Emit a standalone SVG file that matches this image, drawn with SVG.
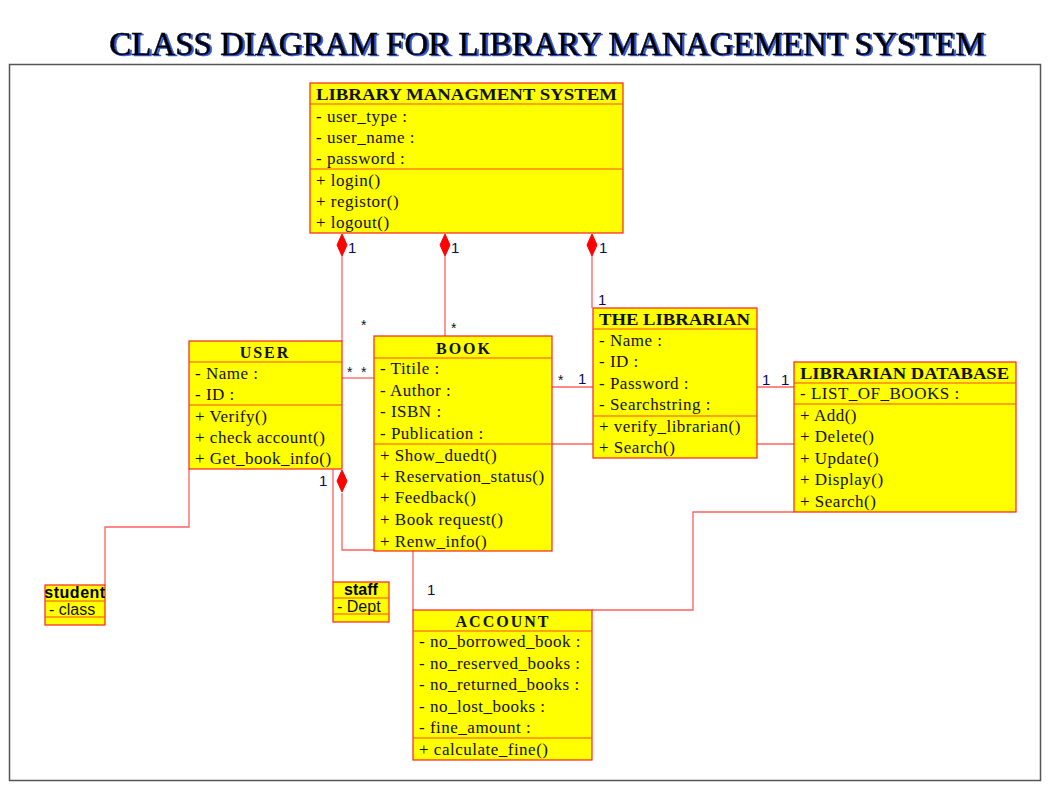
<svg xmlns="http://www.w3.org/2000/svg" width="1050" height="791" viewBox="0 0 1050 791">
<defs>
<style>
.box{fill:#FFFF00;stroke:#FF2020;stroke-width:1.2}
.sep{stroke:#FF4A1A;stroke-width:1.2}
.t{font-family:"Liberation Serif","Times New Roman",serif;font-size:17px;letter-spacing:0.5px;fill:#111}
.h{font-family:"Liberation Serif","Times New Roman",serif;font-size:16px;font-weight:bold;fill:#111}
.s{font-family:"Liberation Sans",Arial,sans-serif;font-size:14px;fill:#111}
.s16{font-family:"Liberation Sans",Arial,sans-serif;font-size:16px;fill:#111}
.sb{font-family:"Liberation Sans",Arial,sans-serif;font-size:16px;font-weight:bold;fill:#000}
.m{font-family:"Liberation Sans",Arial,sans-serif;font-size:15px;fill:#0a0a50}
.ln{fill:none;stroke:#FF6060;stroke-width:1.3}
.dia{fill:#FF0000;stroke:#FF0000}
.title{font-family:"Liberation Serif","Times New Roman",serif;font-size:33px;fill:#000;stroke:#000;stroke-width:0.6}
</style>
<clipPath id="clipStudent"><rect x="45" y="585" width="60" height="40"/></clipPath>
<filter id="shadow" x="-5%" y="-40%" width="110%" height="180%">
<feDropShadow dx="2" dy="1" stdDeviation="0.4" flood-color="#2f55e0" flood-opacity="1"/>
</filter>
</defs>
<rect x="0" y="0" width="1050" height="791" fill="#fff"/>
<g id="title">
<text class="title" x="547" y="55" text-anchor="middle" filter="url(#shadow)">CLASS DIAGRAM FOR LIBRARY MANAGEMENT SYSTEM</text>
</g>
<rect id="frame" x="9.5" y="64.5" width="1031" height="716" fill="none" stroke="#555" stroke-width="1.5"/>

<g id="connectors">
<path class="ln" d="M342,256 V341"/>
<path class="ln" d="M342,378 H374"/>
<path class="ln" d="M445,256 V336"/>
<path class="ln" d="M592,256 V308"/>
<path class="ln" d="M552,387 H593"/>
<path class="ln" d="M552,444 H593"/>
<path class="ln" d="M757,387 H794"/>
<path class="ln" d="M757,444 H794"/>
<path class="ln" d="M333,469 V582"/>
<path class="ln" d="M342,493 V550 H374"/>
<path class="ln" d="M189,469 V527 H105 V585"/>
<path class="ln" d="M413,551 V610"/>
<path class="ln" d="M592,610 H693 V512 H794"/>
<polygon class="dia" points="342,234 347,245 342,256 337,245"/>
<polygon class="dia" points="445,234 450,245 445,256 440,245"/>
<polygon class="dia" points="592,234 597,245 592,256 587,245"/>
<polygon class="dia" points="342,470 347,481 342,492 337,481"/>
<text class="m" x="348" y="253">1</text>
<text class="m" x="451" y="253">1</text>
<text class="m" x="599" y="253">1</text>
<text class="m" x="598" y="305">1</text>
<text class="s" x="361" y="330">*</text>
<text class="s" x="451" y="333">*</text>
<text class="s" x="347" y="377">*</text>
<text class="s" x="361" y="377">*</text>
<text class="s" x="558" y="385">*</text>
<text class="m" x="578" y="384">1</text>
<text class="m" x="762" y="385">1</text>
<text class="m" x="781" y="385">1</text>
<text class="m" x="319" y="486">1</text>
<text class="m" x="427" y="595">1</text>
</g>

<g id="lms">
<rect class="box" x="310" y="83" width="313" height="150"/>
<line class="sep" x1="310" y1="104" x2="623" y2="104"/>
<line class="sep" x1="310" y1="169" x2="623" y2="169"/>
<text class="h" x="316" y="100" textLength="301" lengthAdjust="spacingAndGlyphs">LIBRARY MANAGMENT SYSTEM</text>
<text class="t" x="316" y="122">- user_type :</text>
<text class="t" x="316" y="143">- user_name :</text>
<text class="t" x="316" y="164">- password :</text>
<text class="t" x="316" y="186">+ login()</text>
<text class="t" x="316" y="207">+ registor()</text>
<text class="t" x="316" y="228">+ logout()</text>
</g>

<g id="user">
<rect class="box" x="189" y="341" width="153" height="128"/>
<line class="sep" x1="189" y1="362" x2="342" y2="362"/>
<line class="sep" x1="189" y1="405" x2="342" y2="405"/>
<text class="h" x="265" y="358" text-anchor="middle" letter-spacing="2">USER</text>
<text class="t" x="195" y="379">- Name :</text>
<text class="t" x="195" y="400">- ID :</text>
<text class="t" x="195" y="422">+ Verify()</text>
<text class="t" x="195" y="443">+ check account()</text>
<text class="t" x="195" y="464">+ Get_book_info()</text>
</g>

<g id="book">
<rect class="box" x="374" y="336" width="178" height="215"/>
<line class="sep" x1="374" y1="358" x2="552" y2="358"/>
<line class="sep" x1="374" y1="444" x2="552" y2="444"/>
<text class="h" x="464" y="354" text-anchor="middle" letter-spacing="2">BOOK</text>
<text class="t" x="380" y="374">- Titile :</text>
<text class="t" x="380" y="396">- Author :</text>
<text class="t" x="380" y="417">- ISBN :</text>
<text class="t" x="380" y="439">- Publication :</text>
<text class="t" x="380" y="461">+ Show_duedt()</text>
<text class="t" x="380" y="482">+ Reservation_status()</text>
<text class="t" x="380" y="503">+ Feedback()</text>
<text class="t" x="380" y="525">+ Book request()</text>
<text class="t" x="380" y="547">+ Renw_info()</text>
</g>

<g id="librarian">
<rect class="box" x="593" y="308" width="164" height="150"/>
<line class="sep" x1="593" y1="329" x2="757" y2="329"/>
<line class="sep" x1="593" y1="416" x2="757" y2="416"/>
<text class="h" x="599" y="325" textLength="151" lengthAdjust="spacingAndGlyphs">THE LIBRARIAN</text>
<text class="t" x="599" y="346">- Name :</text>
<text class="t" x="599" y="367">- ID :</text>
<text class="t" x="599" y="389">- Password :</text>
<text class="t" x="599" y="410">- Searchstring :</text>
<text class="t" x="599" y="432">+ verify_librarian()</text>
<text class="t" x="599" y="453">+ Search()</text>
</g>

<g id="database">
<rect class="box" x="794" y="362" width="222" height="150"/>
<line class="sep" x1="794" y1="383" x2="1016" y2="383"/>
<line class="sep" x1="794" y1="404" x2="1016" y2="404"/>
<text class="h" x="800" y="379" textLength="209" lengthAdjust="spacingAndGlyphs">LIBRARIAN DATABASE</text>
<text class="t" x="800" y="399" letter-spacing="1">- LIST_OF_BOOKS :</text>
<text class="t" x="800" y="421">+ Add()</text>
<text class="t" x="800" y="442">+ Delete()</text>
<text class="t" x="800" y="464">+ Update()</text>
<text class="t" x="800" y="485">+ Display()</text>
<text class="t" x="800" y="507">+ Search()</text>
</g>

<g id="account">
<rect class="box" x="413" y="610" width="179" height="150"/>
<line class="sep" x1="413" y1="631" x2="592" y2="631"/>
<line class="sep" x1="413" y1="738" x2="592" y2="738"/>
<text class="h" x="503" y="627" text-anchor="middle" letter-spacing="2">ACCOUNT</text>
<text class="t" x="419" y="647">- no_borrowed_book :</text>
<text class="t" x="419" y="669">- no_reserved_books :</text>
<text class="t" x="419" y="690">- no_returned_books :</text>
<text class="t" x="419" y="712">- no_lost_books :</text>
<text class="t" x="419" y="733">- fine_amount :</text>
<text class="t" x="419" y="755">+ calculate_fine()</text>
</g>

<g id="student">
<rect class="box" x="45" y="585" width="60" height="40"/>
<line class="sep" x1="45" y1="601" x2="105" y2="601"/>
<line class="sep" x1="45" y1="617" x2="105" y2="617"/>
<g clip-path="url(#clipStudent)">
<text class="sb" x="75" y="598" text-anchor="middle" letter-spacing="0.5">student</text>
</g>
<text class="s16" x="49" y="615">- class</text>
</g>

<g id="staff">
<rect class="box" x="333" y="582" width="56" height="40"/>
<line class="sep" x1="333" y1="598" x2="389" y2="598"/>
<line class="sep" x1="333" y1="614" x2="389" y2="614"/>
<text class="sb" x="361" y="595" text-anchor="middle">staff</text>
<text class="s16" x="337" y="612">- Dept</text>
</g>
</svg>
